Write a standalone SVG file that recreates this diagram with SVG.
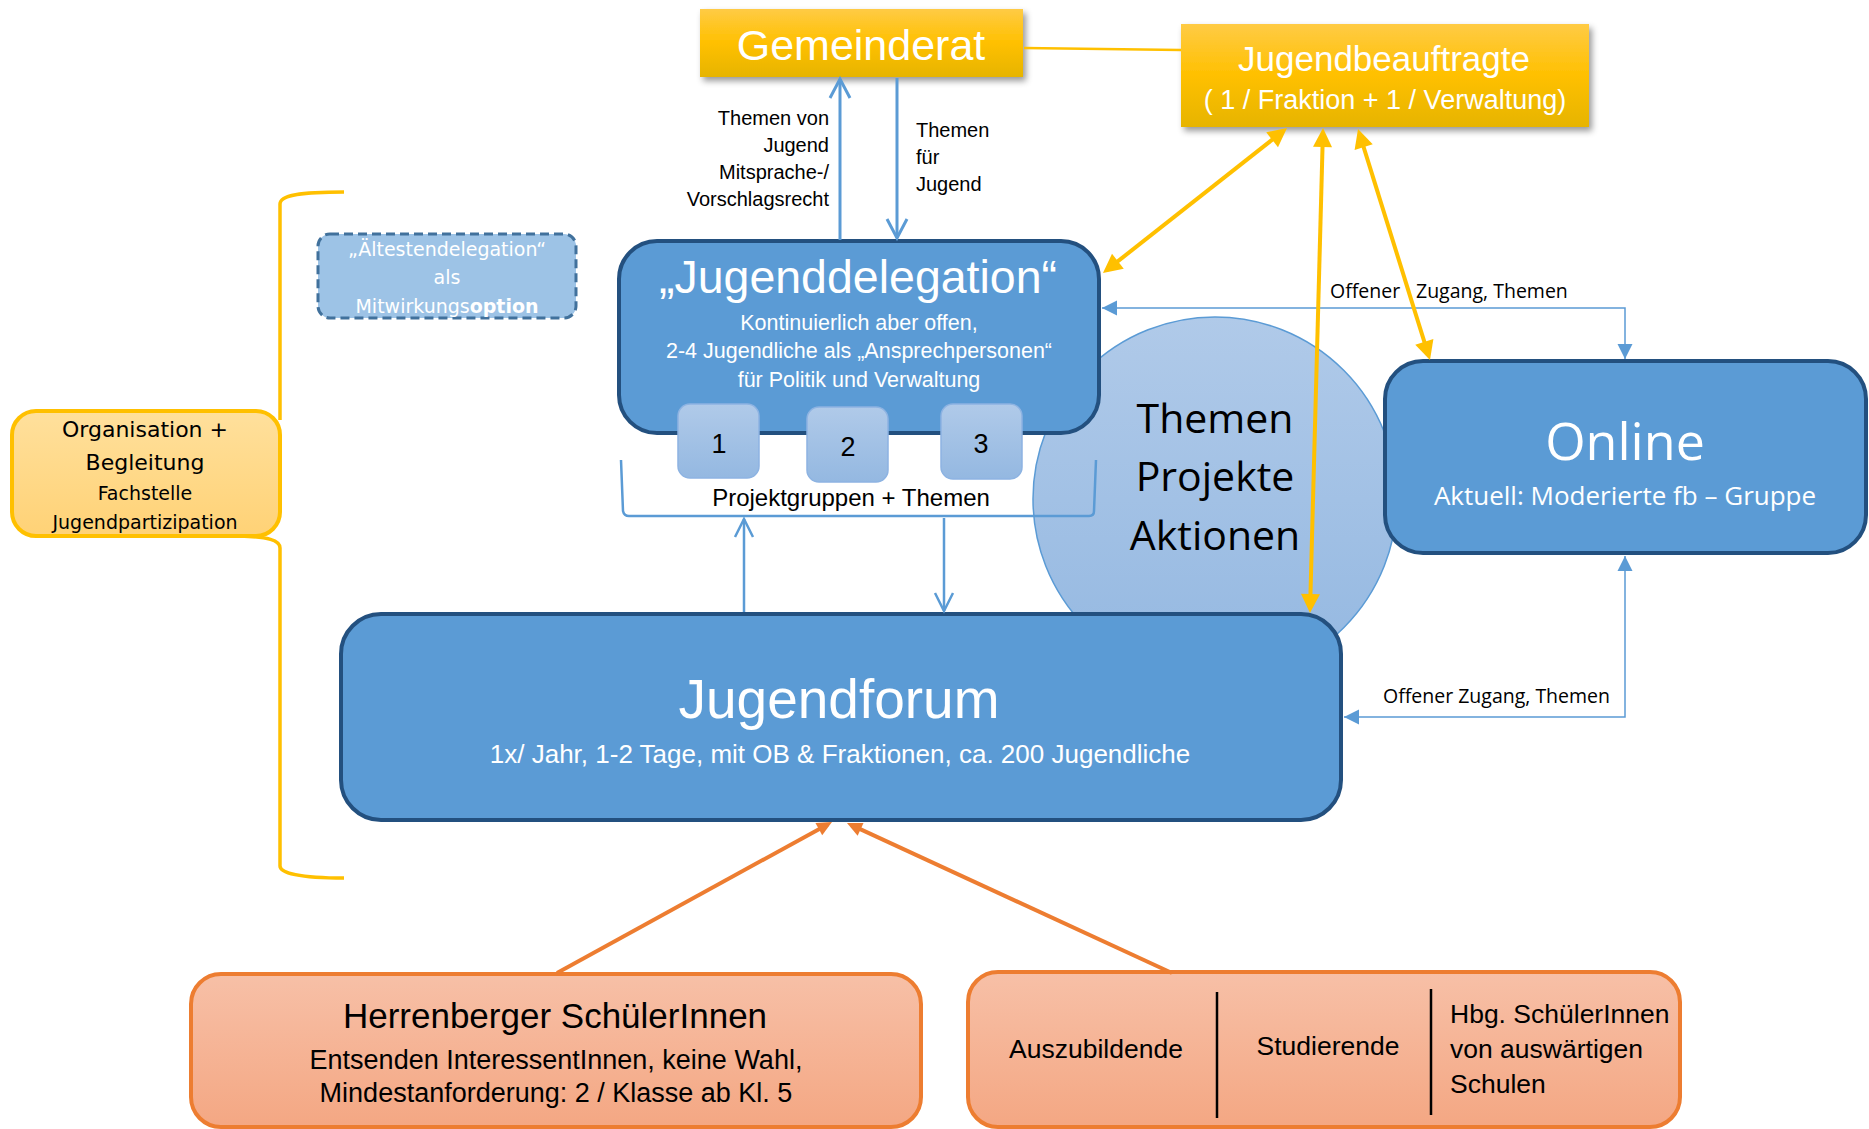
<svg xmlns="http://www.w3.org/2000/svg" width="1869" height="1129" viewBox="0 0 1869 1129">
<style>
.cal{font-family:"Liberation Sans",Arial,sans-serif}
.hum{font-family:"Open Sans","Noto Sans",sans-serif}
.ver{font-family:"DejaVu Sans",Verdana,sans-serif}
.w{fill:#fff}
.k{fill:#000}
.blue{fill:#5B9BD5;stroke:#23507F;stroke-width:4}
.sm{fill:url(#gLight);stroke:#8DB3E2;stroke-width:1.5}
.or{fill:url(#gOrange);stroke:#ED7D31;stroke-width:4}
.yb{fill:url(#gGold)}
.cb{fill:none;stroke:#5B9BD5}
.cy{fill:none;stroke:#FFC000;stroke-width:4}
.co{fill:none;stroke:#ED7D31;stroke-width:4}
</style>
<defs>
<linearGradient id="gGold" x1="0" y1="0" x2="0" y2="1">
<stop offset="0" stop-color="#FFCB45"/><stop offset="0.5" stop-color="#FFC000"/><stop offset="1" stop-color="#E6B400"/>
</linearGradient>
<linearGradient id="gLight" x1="0" y1="0" x2="0" y2="1">
<stop offset="0" stop-color="#B0CAE9"/><stop offset="1" stop-color="#94B8E1"/>
</linearGradient>
<linearGradient id="gOrange" x1="0" y1="0" x2="0" y2="1">
<stop offset="0" stop-color="#F7C0A7"/><stop offset="1" stop-color="#F4A783"/>
</linearGradient>
<linearGradient id="gYel" x1="0" y1="0" x2="0" y2="1">
<stop offset="0" stop-color="#FFE09C"/><stop offset="1" stop-color="#FFD276"/>
</linearGradient>
<filter id="sh" x="-10%" y="-20%" width="130%" height="160%">
<feDropShadow dx="3" dy="4" stdDeviation="3" flood-color="#000" flood-opacity="0.4"/>
</filter>
<marker id="mOpen" viewBox="-22 -13 26 26" refX="0" refY="0" markerWidth="26" markerHeight="26" markerUnits="userSpaceOnUse" orient="auto-start-reverse">
<path d="M-19,-10 L0,0 L-19,10" fill="none" stroke="#5B9BD5" stroke-width="3"/>
</marker>
<marker id="mOpenS" viewBox="-22 -13 26 26" refX="0" refY="0" markerWidth="26" markerHeight="26" markerUnits="userSpaceOnUse" orient="auto-start-reverse">
<path d="M-18,-9 L0,0 L-18,9" fill="none" stroke="#5B9BD5" stroke-width="2.5"/>
</marker>
<marker id="mTriB" viewBox="-16 -9 18 18" refX="0" refY="0" markerWidth="18" markerHeight="18" markerUnits="userSpaceOnUse" orient="auto-start-reverse">
<path d="M-15,-7.5 L0,0 L-15,7.5 z" fill="#5B9BD5"/>
</marker>
<marker id="mTriY" viewBox="-16 -11 24 22" refX="0" refY="0" markerWidth="24" markerHeight="22" markerUnits="userSpaceOnUse" orient="auto-start-reverse">
<path d="M-14,-9.5 L5,0 L-14,9.5 z" fill="#FFC000"/>
</marker>
<marker id="mTriO" viewBox="-12 -9 18 18" refX="0" refY="0" markerWidth="18" markerHeight="18" markerUnits="userSpaceOnUse" orient="auto-start-reverse">
<path d="M-10,-7 L5,0 L-10,7 z" fill="#ED7D31"/>
</marker>
</defs>
<rect width="1869" height="1129" fill="#fff"/>

<g id="brace">
<path d="M344,192 C300,192 280,195 280,204 L280,420" fill="none" stroke="#FFC000" stroke-width="3.5"/>
<path d="M240,536 C268,537 280,540 280,548 L280,866 C280,873 300,878 344,878" fill="none" stroke="#FFC000" stroke-width="3.5"/>
</g>

<g id="themen-kreis">
<circle cx="1215" cy="499" r="182" fill="url(#gLight)" stroke="#5B9BD5" stroke-width="1.5"/>
<text class="hum k" font-size="41" text-anchor="middle"><tspan x="1215" y="433">Themen</tspan><tspan x="1215" y="491">Projekte</tspan><tspan x="1215" y="550">Aktionen</tspan></text>
</g>

<g id="gemeinderat">
<rect x="700" y="9" width="323" height="68" class="yb" filter="url(#sh)"/>
<text x="861" y="60" class="cal w" font-size="43" text-anchor="middle">Gemeinderat</text>
</g>

<g id="jugendbeauftragte">
<rect x="1181" y="24" width="408" height="103" class="yb" filter="url(#sh)"/>
<text x="1384" y="71" class="cal w" font-size="35" text-anchor="middle">Jugendbeauftragte</text>
<text x="1385" y="109" class="cal w" font-size="27" text-anchor="middle">( 1 / Fraktion + 1 / Verwaltung)</text>
</g>

<g id="aeltestendelegation">
<rect x="318" y="234" width="258" height="84" rx="12" fill="#9DC3E6" stroke="#41719C" stroke-width="3" stroke-dasharray="9,5"/>
<text class="ver w" font-size="19" text-anchor="middle"><tspan x="447" y="256">„Ältestendelegation“</tspan><tspan x="447" y="284">als</tspan><tspan x="447" y="313">Mitwirkungs<tspan font-weight="bold">option</tspan></tspan></text>
</g>

<g id="jugenddelegation">
<rect x="619" y="241" width="480" height="192" rx="38" class="blue"/>
<text x="858" y="293" class="cal w" font-size="46.5" text-anchor="middle">„Jugenddelegation“</text>
<text class="cal w" font-size="21.5" text-anchor="middle"><tspan x="859" y="330">Kontinuierlich aber offen,</tspan><tspan x="859" y="358">2-4 Jugendliche als „Ansprechpersonen“</tspan><tspan x="859" y="387">für Politik und Verwaltung</tspan></text>
</g>

<g id="projektgruppe-1">
<rect x="678" y="404" width="81" height="74" rx="12" class="sm"/>
<text x="719" y="453" class="cal k" font-size="27" text-anchor="middle">1</text>
</g>
<g id="projektgruppe-2">
<rect x="807" y="407" width="81" height="75" rx="12" class="sm"/>
<text x="848" y="456" class="cal k" font-size="27" text-anchor="middle">2</text>
</g>
<g id="projektgruppe-3">
<rect x="941" y="404" width="81" height="75" rx="12" class="sm"/>
<text x="981" y="453" class="cal k" font-size="27" text-anchor="middle">3</text>
</g>

<g id="projektgruppen-klammer">
<path d="M621,460 L623,511 Q624,516 629,516 L1089,516 Q1094,516 1094,511 L1096,460" fill="none" stroke="#5B9BD5" stroke-width="2.5"/>
<text x="851" y="506" class="cal k" font-size="24" text-anchor="middle">Projektgruppen + Themen</text>
</g>

<g id="online">
<rect x="1385" y="361" width="481" height="192" rx="38" class="blue"/>
<text x="1625" y="460" class="hum w" font-size="52" text-anchor="middle">Online</text>
<text x="1625" y="505" class="hum w" font-size="26" text-anchor="middle">Aktuell: Moderierte fb – Gruppe</text>
</g>

<g id="jugendforum">
<rect x="341" y="614" width="1000" height="206" rx="40" class="blue"/>
<text x="839" y="718" class="cal w" font-size="55" text-anchor="middle">Jugendforum</text>
<text x="840" y="763" class="cal w" font-size="26" text-anchor="middle">1x/ Jahr, 1-2 Tage, mit OB &amp; Fraktionen, ca. 200 Jugendliche</text>
</g>

<g id="organisation">
<rect x="12" y="411" width="268" height="125" rx="24" fill="url(#gYel)" stroke="#FFC000" stroke-width="4"/>
<text class="ver k" text-anchor="middle"><tspan x="145" y="437" font-size="22">Organisation +</tspan><tspan x="145" y="470" font-size="22">Begleitung</tspan><tspan x="145" y="500" font-size="19">Fachstelle</tspan><tspan x="145" y="529" font-size="19">Jugendpartizipation</tspan></text>
</g>

<g id="herrenberger-schueler">
<rect x="191" y="974" width="730" height="153" rx="30" class="or"/>
<text x="555" y="1028" class="cal k" font-size="35" text-anchor="middle">Herrenberger SchülerInnen</text>
<text class="cal k" font-size="27" text-anchor="middle"><tspan x="556" y="1069">Entsenden InteressentInnen, keine Wahl,</tspan><tspan x="556" y="1102">Mindestanforderung: 2 / Klasse ab Kl. 5</tspan></text>
</g>

<g id="weitere-jugendliche">
<rect x="968" y="972" width="712" height="155" rx="30" class="or"/>
<line x1="1217" y1="992" x2="1217" y2="1118" stroke="#000" stroke-width="2.5"/>
<line x1="1431" y1="989" x2="1431" y2="1115" stroke="#000" stroke-width="2.5"/>
<text x="1096" y="1058" class="cal k" font-size="26.5" text-anchor="middle">Auszubildende</text>
<text x="1328" y="1055" class="cal k" font-size="26.5" text-anchor="middle">Studierende</text>
<text class="cal k" font-size="26.5"><tspan x="1450" y="1023">Hbg. SchülerInnen</tspan><tspan x="1450" y="1058">von auswärtigen</tspan><tspan x="1450" y="1093">Schulen</tspan></text>
</g>

<g id="connectors">
<path d="M1024,48 L1181,50" fill="none" stroke="#FFC000" stroke-width="2.5"/>
<path d="M840,240 L840,79" class="cb" stroke-width="3" marker-end="url(#mOpen)"/>
<path d="M897,78 L897,238" class="cb" stroke-width="3" marker-end="url(#mOpen)"/>
<text class="cal k" font-size="20" text-anchor="end"><tspan x="829" y="125">Themen von</tspan><tspan x="829" y="152">Jugend</tspan><tspan x="829" y="179">Mitsprache-/</tspan><tspan x="829" y="206">Vorschlagsrecht</tspan></text>
<text class="cal k" font-size="20"><tspan x="916" y="137">Themen</tspan><tspan x="916" y="164">für</tspan><tspan x="916" y="191">Jugend</tspan></text>
<path d="M744,612 L744,519" class="cb" stroke-width="2.5" marker-end="url(#mOpenS)"/>
<path d="M944,518 L944,611" class="cb" stroke-width="2.5" marker-end="url(#mOpenS)"/>
<path d="M1102,308 L1625,308 L1625,359" class="cb" stroke-width="1.5" marker-start="url(#mTriB)" marker-end="url(#mTriB)"/>
<text class="hum k" font-size="19.5"><tspan x="1330" y="298">Offener</tspan><tspan x="1416" y="298">Zugang, Themen</tspan></text>
<path d="M1625,556 L1625,717 L1344,717" class="cb" stroke-width="1.5" marker-start="url(#mTriB)" marker-end="url(#mTriB)"/>
<text x="1383" y="703" class="hum k" font-size="19.5">Offener Zugang, Themen</text>
<path d="M1283.1,131.1 L1106.9,269.9" class="cy" marker-start="url(#mTriY)" marker-end="url(#mTriY)"/>
<path d="M1322.9,133 L1310.1,608" class="cy" marker-start="url(#mTriY)" marker-end="url(#mTriY)"/>
<path d="M1359.5,133.8 L1428.5,355.2" class="cy" marker-start="url(#mTriY)" marker-end="url(#mTriY)"/>
<path d="M557,973 L827.6,824.4" class="co" marker-end="url(#mTriO)"/>
<path d="M1172,973 L851.5,825.1" class="co" marker-end="url(#mTriO)"/>
</g>
</svg>
